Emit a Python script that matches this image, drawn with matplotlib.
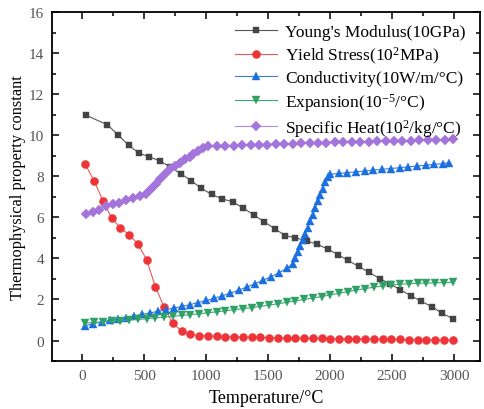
import matplotlib
matplotlib.use("Agg")
import matplotlib.pyplot as plt
from matplotlib.ticker import MultipleLocator

# ---- data -----------------------------------------------------------------
modulus_T = [30, 205, 290, 375, 460, 540, 625, 710, 795, 880, 960, 1045, 1130,
             1215, 1300, 1385, 1470, 1555, 1640, 1720, 1810, 1895, 1980, 2065,
             2145, 2230, 2315, 2400, 2485, 2565, 2650, 2735, 2820, 2905, 2990]
modulus = [10.98, 10.51, 10.02, 9.52, 9.12, 8.96, 8.75, 8.47, 8.13, 7.79, 7.42,
           7.12, 6.90, 6.76, 6.45, 6.12, 5.78, 5.44, 5.11, 5.00, 4.86, 4.69,
           4.46, 4.18, 3.90, 3.61, 3.32, 3.02, 2.76, 2.47, 2.19, 1.91, 1.65,
           1.32, 1.06]

stress_T = [27, 98, 168, 239, 309, 380, 450, 521, 591, 662, 732, 803, 873, 944,
            1014, 1085, 1155, 1226, 1296, 1367, 1437, 1508, 1578, 1649, 1719,
            1790, 1860, 1931, 2001, 2072, 2142, 2213, 2283, 2354, 2424, 2495,
            2565, 2636, 2706, 2777, 2847, 2918, 2988]
stress = [8.58, 7.77, 6.82, 5.97, 5.48, 5.16, 4.70, 3.93, 2.63, 1.62, 0.83,
          0.47, 0.31, 0.24, 0.22, 0.20, 0.19, 0.18, 0.17, 0.16, 0.15, 0.14,
          0.13, 0.12, 0.12, 0.11, 0.10, 0.10, 0.09, 0.08, 0.08, 0.07, 0.07,
          0.06, 0.06, 0.05, 0.05, 0.04, 0.04, 0.03, 0.03, 0.02, 0.02]

cond_T = [27, 92, 157, 222, 287, 352, 417, 482, 547, 612, 677, 742, 807, 872,
          937, 1002, 1067, 1132, 1197, 1262, 1327, 1392, 1457, 1522, 1587, 1652,
          1700, 1720, 1740, 1760, 1780, 1800, 1820, 1840, 1860, 1880, 1900,
          1920, 1940, 1960, 1980, 2000, 2070, 2140, 2210, 2280, 2350, 2420,
          2490, 2560, 2630, 2700, 2770, 2840, 2910, 2960]
cond = [0.72, 0.82, 0.90, 0.98, 1.05, 1.12, 1.20, 1.27, 1.34, 1.42, 1.50, 1.58,
        1.66, 1.75, 1.85, 1.95, 2.06, 2.18, 2.31, 2.45, 2.60, 2.76, 2.93, 3.10,
        3.30, 3.52, 3.75, 4.00, 4.30, 4.60, 4.90, 5.20, 5.50, 5.80, 6.10, 6.45,
        6.80, 7.10, 7.40, 7.70, 7.95, 8.10, 8.14, 8.18, 8.22, 8.26, 8.30, 8.34,
        8.38, 8.42, 8.46, 8.50, 8.54, 8.58, 8.62, 8.66]

expan_T = stress_T
expan = [0.85, 0.88, 0.91, 0.94, 0.97, 1.00, 1.03, 1.06, 1.10, 1.14, 1.18,
         1.22, 1.26, 1.30, 1.35, 1.40, 1.45, 1.50, 1.55, 1.60, 1.66, 1.72,
         1.79, 1.86, 1.93, 2.00, 2.07, 2.14, 2.22, 2.30, 2.38, 2.46, 2.53,
         2.60, 2.66, 2.71, 2.74, 2.77, 2.79, 2.80, 2.81, 2.82, 2.83]

heat_T = [32, 86, 140, 194, 248, 302, 357, 411, 465, 519, 560, 600, 627, 668,
          708, 749, 789, 830, 870, 897, 938, 978, 1019, 1087, 1155, 1223, 1291,
          1359, 1427, 1495, 1563, 1631, 1699, 1767, 1835, 1903, 1971, 2039,
          2107, 2175, 2243, 2311, 2379, 2447, 2515, 2583, 2651, 2719, 2787,
          2855, 2923, 2991]
heat = [6.17, 6.25, 6.38, 6.55, 6.63, 6.71, 6.87, 6.95, 7.04, 7.12, 7.36, 7.61,
        7.85, 8.10, 8.34, 8.50, 8.67, 8.83, 8.94, 9.07, 9.24, 9.37, 9.48, 9.48,
        9.49, 9.50, 9.51, 9.52, 9.53, 9.55, 9.56, 9.57, 9.58, 9.60, 9.61, 9.62,
        9.63, 9.65, 9.66, 9.67, 9.68, 9.69, 9.70, 9.71, 9.72, 9.73, 9.74, 9.75,
        9.76, 9.77, 9.78, 9.80]

labels = ["Young's Modulus(10GPa)",
          "Yield Stress(10$^{2}$MPa)",
          "Conductivity(10W/m/\u00b0C)",
          "Expansion(10$^{-5}$/\u00b0C)",
          "Specific Heat(10$^{2}$/kg/\u00b0C)"]

# ---- style ----------------------------------------------------------------
plt.rcParams['font.family'] = ['Liberation Serif', 'DejaVu Serif']
plt.rcParams['mathtext.fontset'] = 'custom'
plt.rcParams['mathtext.rm'] = 'Liberation Serif'
plt.rcParams['mathtext.it'] = 'Liberation Serif'

fig = plt.figure(figsize=(4.84, 4.10), dpi=100)
ax = fig.add_axes([0.108, 0.117, 0.884, 0.851])

series = [
    (modulus_T, modulus, 's', '#444444', '#555555', 4.8),
    (stress_T, stress, 'o', '#EE3438', '#E55A5A', 5.8),
    (cond_T, cond, '^', '#1C6FE0', '#3A7FD8', 5.8),
    (expan_T, expan, 'v', '#2FA066', '#3CA872', 5.8),
    (heat_T, heat, 'D', '#A274DC', '#B08AE0', 4.6),
]
for (xs, ys, mk, mc, lc, ms), lab in zip(series, labels):
    ax.plot(xs, ys, color=lc, lw=0.8, marker=mk, markersize=ms,
            markerfacecolor=mc, markeredgecolor=mc, markeredgewidth=0.3,
            label=lab)

ax.set_xlim(-240, 3210)
ax.set_ylim(-1, 16)
ax.xaxis.set_major_locator(MultipleLocator(500))
ax.xaxis.set_minor_locator(MultipleLocator(250))
ax.yaxis.set_major_locator(MultipleLocator(2))
ax.yaxis.set_minor_locator(MultipleLocator(1))
ax.tick_params(which='both', direction='in', top=True, right=True,
               labelsize=11, width=1.1, colors='black', labelcolor='#555555',
               pad=6)
ax.tick_params(which='major', length=5)
ax.tick_params(which='minor', length=3)
for s in ax.spines.values():
    s.set_linewidth(1.3)

ax.set_xlabel('Temperature/\u00b0C', fontsize=13, labelpad=5)
ax.set_ylabel('Thermophysical property constant', fontsize=11.8, labelpad=2)

ax.legend(loc='upper right', frameon=False, fontsize=12.5, handlelength=2.4,
          handletextpad=0.5, labelspacing=0.25, borderaxespad=0.3,
          bbox_to_anchor=(0.995, 1.0))

fig.savefig('out.png', dpi=100)
